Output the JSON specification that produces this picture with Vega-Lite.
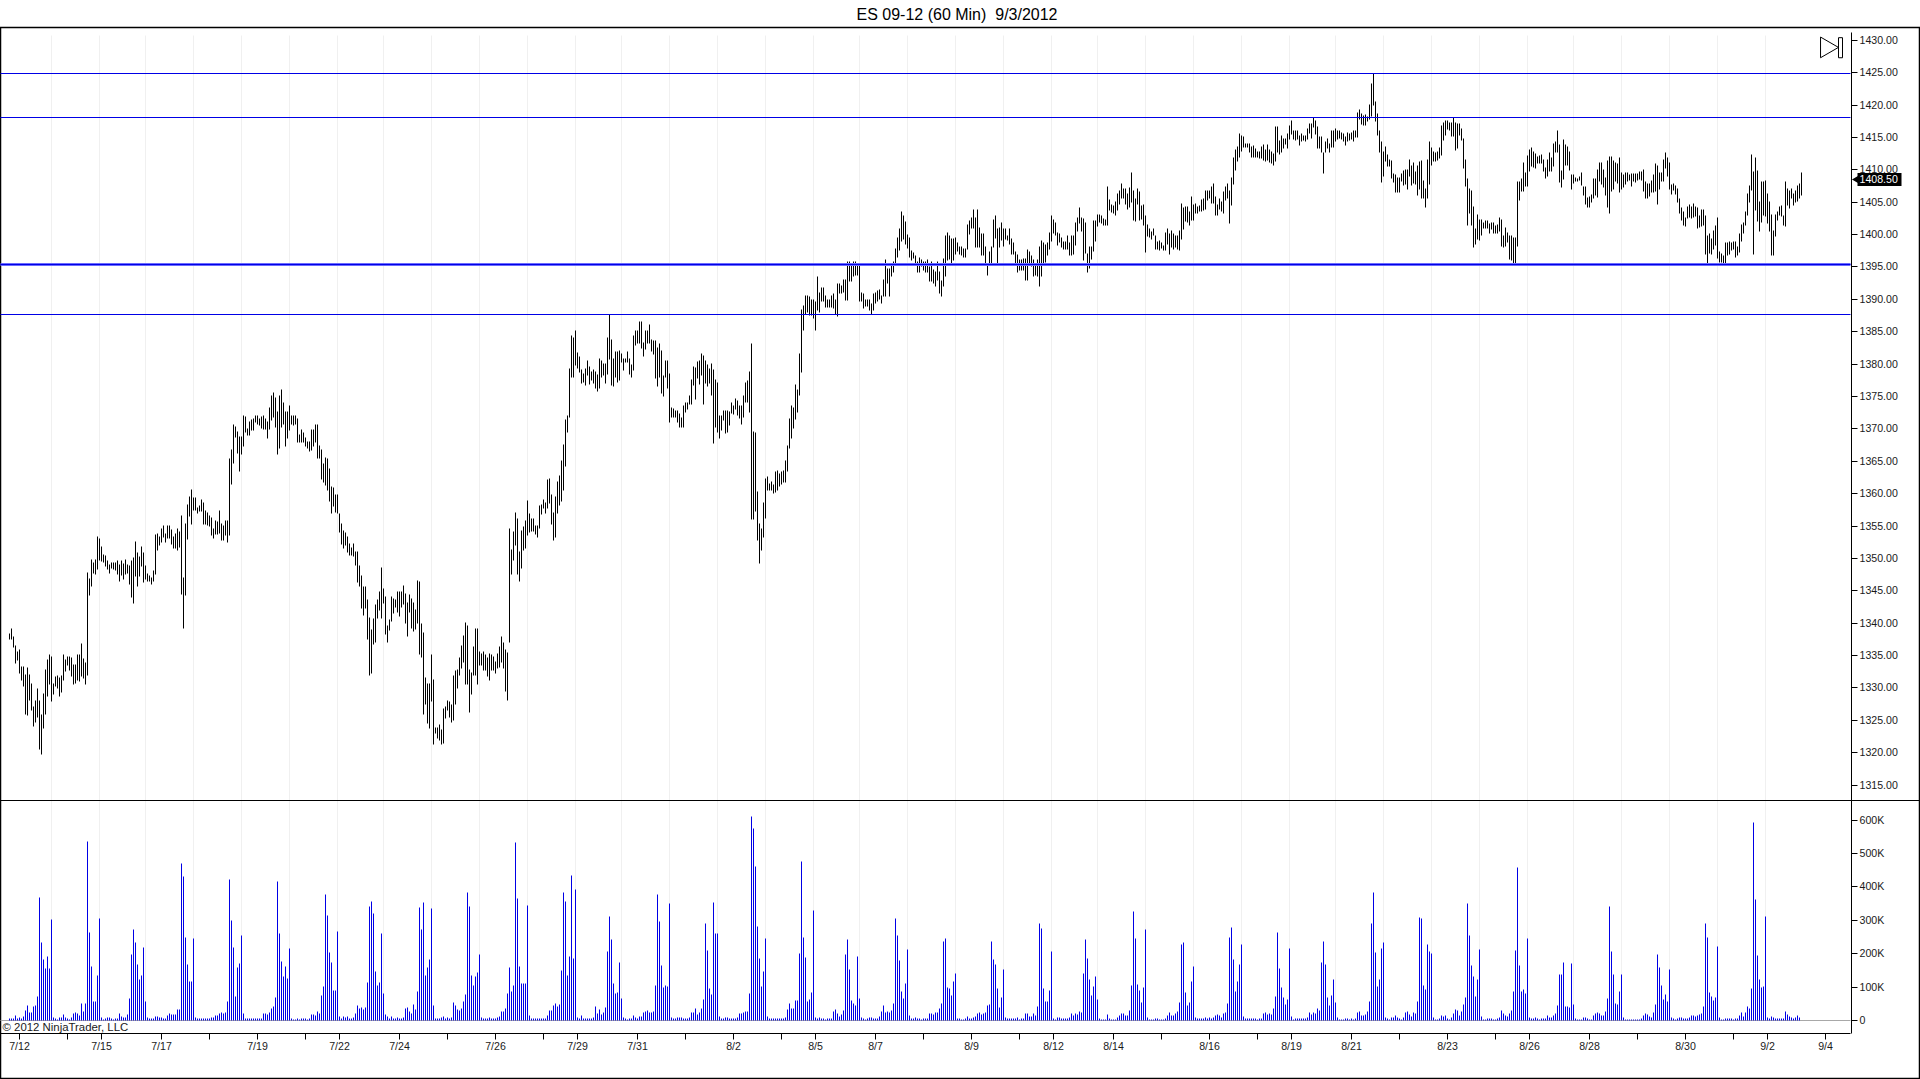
{"$schema":"https://vega.github.io/schema/vega-lite/v6.json","width":1919,"height":1051,"autosize":"none","padding":{"left":0.5,"top":27.5,"right":0,"bottom":0},"background":"white",
"title":{"text":"ES 09-12 (60 Min) \u00a09/3/2012","font":"Liberation Sans","fontSize":16,"fontWeight":"normal","color":"#000","anchor":"middle","frame":"group","dx":-3,"offset":5},
"config":{"view":{"stroke":"#000","strokeWidth":1.5},"axis":{"translate":0,"domainColor":"#000","tickColor":"#000","domainWidth":1,"tickWidth":1,"tickSize":6,"labelFont":"Liberation Sans","labelFontSize":10.6,"labelColor":"#1a1a1a","labelPadding":2,"grid":false,"title":null,"labelOverlap":false,"labelBound":false,"labelFlush":false},"text":{"font":"Liberation Sans"}},
"data":{"values":[
{"i":0,"h":1338.4,"l":1337.5,"v":6},{"i":1,"h":1339.2,"l":1337.5,"v":7},{"i":2,"h":1338,"l":1336.3,"v":7},{"i":3,"h":1336.5,"l":1333.8,"v":16},{"i":4,"h":1335.7,"l":1334.3,"v":6},{"i":5,"h":1336,"l":1332.3,"v":10},{"i":6,"h":1333.3,"l":1331.2,"v":7},{"i":7,"h":1333.3,"l":1330.2,"v":12},{"i":8,"h":1332,"l":1325.9,"v":31},{"i":9,"h":1333.1,"l":1325.8,"v":46},
{"i":10,"h":1332,"l":1328,"v":25},{"i":11,"h":1330.7,"l":1326.5,"v":25},{"i":12,"h":1327.1,"l":1324,"v":43},{"i":13,"h":1328,"l":1324.7,"v":46},{"i":14,"h":1329.9,"l":1325.5,"v":73},{"i":15,"h":1328,"l":1320.5,"v":367},{"i":16,"h":1325.9,"l":1319.7,"v":232},{"i":17,"h":1329.1,"l":1323.8,"v":184},{"i":18,"h":1332.8,"l":1325.9,"v":157},{"i":19,"h":1334.4,"l":1328.7,"v":193},
{"i":20,"h":1335.1,"l":1330.6,"v":157},{"i":21,"h":1334.9,"l":1327.9,"v":301},{"i":22,"h":1330.7,"l":1329,"v":10},{"i":23,"h":1331.7,"l":1330.2,"v":7},{"i":24,"h":1331.9,"l":1329.9,"v":3},{"i":25,"h":1331.6,"l":1328.7,"v":10},{"i":26,"h":1331.9,"l":1329.3,"v":8},{"i":27,"h":1335.1,"l":1331.2,"v":18},{"i":28,"h":1334.4,"l":1332.6,"v":8},{"i":29,"h":1334.8,"l":1333.4,"v":7},
{"i":30,"h":1334.8,"l":1332.7,"v":4},{"i":31,"h":1334.7,"l":1331.8,"v":8},{"i":32,"h":1333.6,"l":1330.6,"v":20},{"i":33,"h":1333.6,"l":1330.7,"v":25},{"i":34,"h":1335.1,"l":1331.2,"v":22},{"i":35,"h":1335.1,"l":1331,"v":16},{"i":36,"h":1336.8,"l":1331.7,"v":52},{"i":37,"h":1334.5,"l":1331.5,"v":28},{"i":38,"h":1334,"l":1330.6,"v":52},{"i":39,"h":1347.9,"l":1331.9,"v":535},
{"i":40,"h":1346.9,"l":1344.3,"v":264},{"i":41,"h":1349.9,"l":1345.6,"v":163},{"i":42,"h":1349.3,"l":1347.6,"v":58},{"i":43,"h":1349.9,"l":1347.5,"v":58},{"i":44,"h":1353.4,"l":1348.3,"v":136},{"i":45,"h":1353.1,"l":1349.7,"v":304},{"i":46,"h":1351.9,"l":1349.6,"v":10},{"i":47,"h":1350.6,"l":1349.4,"v":4},{"i":48,"h":1350.5,"l":1348.8,"v":7},{"i":49,"h":1349.7,"l":1348.3,"v":8},
{"i":50,"h":1349.1,"l":1347.6,"v":8},{"i":51,"h":1349.4,"l":1348.5,"v":5},{"i":52,"h":1349.4,"l":1348.3,"v":4},{"i":53,"h":1349.4,"l":1348.2,"v":5},{"i":54,"h":1349.7,"l":1347.5,"v":7},{"i":55,"h":1349.1,"l":1346.5,"v":22},{"i":56,"h":1349.7,"l":1347.4,"v":13},{"i":57,"h":1349.2,"l":1346.8,"v":10},{"i":58,"h":1349.9,"l":1347.5,"v":10},{"i":59,"h":1349.1,"l":1347.7,"v":17},
{"i":60,"h":1348.9,"l":1346,"v":67},{"i":61,"h":1349.7,"l":1344,"v":199},{"i":62,"h":1350.2,"l":1343.1,"v":271},{"i":63,"h":1352.6,"l":1347.2,"v":232},{"i":64,"h":1350.9,"l":1345.7,"v":169},{"i":65,"h":1350.3,"l":1347.2,"v":124},{"i":66,"h":1351.9,"l":1348.8,"v":136},{"i":67,"h":1350.9,"l":1346.3,"v":220},{"i":68,"h":1348.9,"l":1346.8,"v":58},{"i":69,"h":1347.7,"l":1346.5,"v":8},
{"i":70,"h":1347.4,"l":1346.5,"v":5},{"i":71,"h":1347.1,"l":1346,"v":5},{"i":72,"h":1348.2,"l":1346.5,"v":7},{"i":73,"h":1353.7,"l":1347.5,"v":13},{"i":74,"h":1353.9,"l":1351.2,"v":13},{"i":75,"h":1353.4,"l":1352,"v":8},{"i":76,"h":1354.6,"l":1352.5,"v":10},{"i":77,"h":1355.1,"l":1353.3,"v":7},{"i":78,"h":1353.9,"l":1352.5,"v":7},{"i":79,"h":1355.1,"l":1353,"v":14},
{"i":80,"h":1355.1,"l":1353.1,"v":22},{"i":81,"h":1354.5,"l":1352.2,"v":19},{"i":82,"h":1353.4,"l":1351.6,"v":17},{"i":83,"h":1353.9,"l":1351.6,"v":17},{"i":84,"h":1354.6,"l":1351.2,"v":34},{"i":85,"h":1354.1,"l":1351.7,"v":34},{"i":86,"h":1356.6,"l":1344.4,"v":469},{"i":87,"h":1347.1,"l":1339.2,"v":432},{"i":88,"h":1355.4,"l":1344.3,"v":247},{"i":89,"h":1358.3,"l":1352.9,"v":169},
{"i":90,"h":1359.6,"l":1356.5,"v":118},{"i":91,"h":1360.7,"l":1355.3,"v":118},{"i":92,"h":1359.4,"l":1357.4,"v":244},{"i":93,"h":1359.4,"l":1357.4,"v":10},{"i":94,"h":1357.9,"l":1357,"v":5},{"i":95,"h":1358.2,"l":1357.3,"v":5},{"i":96,"h":1359.1,"l":1357.3,"v":7},{"i":97,"h":1358.6,"l":1355.3,"v":7},{"i":98,"h":1357.4,"l":1355.3,"v":7},{"i":99,"h":1357.1,"l":1355.1,"v":7},
{"i":100,"h":1356.6,"l":1355,"v":5},{"i":101,"h":1356.3,"l":1353.6,"v":10},{"i":102,"h":1354.6,"l":1353,"v":10},{"i":103,"h":1355.9,"l":1353.7,"v":16},{"i":104,"h":1355.7,"l":1353.7,"v":16},{"i":105,"h":1357.4,"l":1353.9,"v":22},{"i":106,"h":1355.4,"l":1352.8,"v":25},{"i":107,"h":1355.1,"l":1352.8,"v":22},{"i":108,"h":1355.8,"l":1353.6,"v":25},{"i":109,"h":1355.9,"l":1352.5,"v":58},
{"i":110,"h":1365.4,"l":1353.6,"v":421},{"i":111,"h":1366.8,"l":1361.4,"v":298},{"i":112,"h":1370.7,"l":1364.7,"v":220},{"i":113,"h":1370.4,"l":1368.7,"v":73},{"i":114,"h":1369.6,"l":1366.2,"v":160},{"i":115,"h":1368.9,"l":1363.4,"v":172},{"i":116,"h":1368.9,"l":1366.1,"v":253},{"i":117,"h":1372.1,"l":1367.3,"v":20},{"i":118,"h":1371.9,"l":1369.5,"v":5},{"i":119,"h":1370,"l":1369,"v":5},
{"i":120,"h":1371.2,"l":1369,"v":7},{"i":121,"h":1371.5,"l":1369.8,"v":7},{"i":122,"h":1371.6,"l":1369.8,"v":7},{"i":123,"h":1372.1,"l":1371,"v":7},{"i":124,"h":1372.1,"l":1370.7,"v":5},{"i":125,"h":1371.6,"l":1370.5,"v":5},{"i":126,"h":1371.9,"l":1370.1,"v":7},{"i":127,"h":1372.1,"l":1369.9,"v":22},{"i":128,"h":1371.6,"l":1369.9,"v":22},{"i":129,"h":1371.2,"l":1368.5,"v":19},
{"i":130,"h":1373.3,"l":1369.9,"v":25},{"i":131,"h":1375.2,"l":1371.3,"v":37},{"i":132,"h":1375.6,"l":1371.8,"v":43},{"i":133,"h":1374.9,"l":1370.2,"v":70},{"i":134,"h":1372.7,"l":1366.1,"v":415},{"i":135,"h":1375.2,"l":1367,"v":259},{"i":136,"h":1376.1,"l":1370.2,"v":178},{"i":137,"h":1374,"l":1370.7,"v":133},{"i":138,"h":1372.7,"l":1367.3,"v":163},{"i":139,"h":1372.7,"l":1368.5,"v":127},
{"i":140,"h":1373.6,"l":1369.8,"v":217},{"i":141,"h":1372.1,"l":1370.7,"v":7},{"i":142,"h":1372.1,"l":1370.5,"v":4},{"i":143,"h":1372.1,"l":1370.7,"v":4},{"i":144,"h":1371.6,"l":1367.9,"v":7},{"i":145,"h":1369.2,"l":1367.9,"v":4},{"i":146,"h":1369.9,"l":1367.9,"v":7},{"i":147,"h":1369.5,"l":1367.9,"v":7},{"i":148,"h":1368.7,"l":1367.3,"v":7},{"i":149,"h":1368.1,"l":1367,"v":4},
{"i":150,"h":1368.1,"l":1366.5,"v":7},{"i":151,"h":1369.9,"l":1366.7,"v":19},{"i":152,"h":1369.9,"l":1367.3,"v":19},{"i":153,"h":1370.7,"l":1367.9,"v":16},{"i":154,"h":1370.7,"l":1365.4,"v":28},{"i":155,"h":1367.5,"l":1365.4,"v":22},{"i":156,"h":1366.8,"l":1362.2,"v":76},{"i":157,"h":1364.7,"l":1361.7,"v":103},{"i":158,"h":1365.6,"l":1361.3,"v":376},{"i":159,"h":1365.4,"l":1360.5,"v":313},
{"i":160,"h":1363.9,"l":1358.8,"v":205},{"i":161,"h":1361.1,"l":1357,"v":175},{"i":162,"h":1361,"l":1358,"v":91},{"i":163,"h":1359.9,"l":1357.1,"v":91},{"i":164,"h":1359.9,"l":1357,"v":265},{"i":165,"h":1357,"l":1354,"v":13},{"i":166,"h":1355.4,"l":1352.2,"v":7},{"i":167,"h":1354.3,"l":1351.5,"v":13},{"i":168,"h":1354,"l":1352,"v":10},{"i":169,"h":1353.4,"l":1350.9,"v":13},
{"i":170,"h":1352.3,"l":1350.5,"v":7},{"i":171,"h":1351.7,"l":1350.5,"v":7},{"i":172,"h":1352.3,"l":1350.3,"v":10},{"i":173,"h":1351.1,"l":1348.9,"v":20},{"i":174,"h":1351.1,"l":1346.3,"v":46},{"i":175,"h":1348.9,"l":1345.7,"v":37},{"i":176,"h":1347.4,"l":1342.3,"v":40},{"i":177,"h":1345.7,"l":1341.2,"v":34},{"i":178,"h":1345.7,"l":1342.3,"v":40},{"i":179,"h":1343.7,"l":1337.5,"v":115},
{"i":180,"h":1340.9,"l":1331.9,"v":340},{"i":181,"h":1339.1,"l":1332.2,"v":355},{"i":182,"h":1340.8,"l":1336.7,"v":319},{"i":183,"h":1342.9,"l":1337,"v":148},{"i":184,"h":1343.7,"l":1340.7,"v":106},{"i":185,"h":1344.9,"l":1342,"v":115},{"i":186,"h":1348.6,"l":1340.7,"v":259},{"i":187,"h":1345.4,"l":1343,"v":82},{"i":188,"h":1344.1,"l":1338.3,"v":19},{"i":189,"h":1339.7,"l":1337,"v":13},
{"i":190,"h":1340.5,"l":1338.8,"v":7},{"i":191,"h":1344.1,"l":1340.3,"v":13},{"i":192,"h":1343.8,"l":1341.5,"v":7},{"i":193,"h":1343.7,"l":1342.4,"v":5},{"i":194,"h":1344.9,"l":1341.7,"v":10},{"i":195,"h":1344.9,"l":1341.1,"v":7},{"i":196,"h":1344.9,"l":1342.4,"v":7},{"i":197,"h":1345.8,"l":1342.9,"v":10},{"i":198,"h":1344.6,"l":1340,"v":37},{"i":199,"h":1343.2,"l":1338,"v":40},
{"i":200,"h":1344.4,"l":1341.7,"v":28},{"i":201,"h":1343.8,"l":1339.2,"v":22},{"i":202,"h":1343.2,"l":1338.7,"v":49},{"i":203,"h":1342.1,"l":1339,"v":34},{"i":204,"h":1346.6,"l":1340,"v":88},{"i":205,"h":1346.5,"l":1335.2,"v":337},{"i":206,"h":1340,"l":1334.7,"v":271},{"i":207,"h":1338.6,"l":1325.9,"v":352},{"i":208,"h":1331.6,"l":1327.5,"v":136},{"i":209,"h":1330.7,"l":1324.5,"v":160},
{"i":210,"h":1330.7,"l":1323.8,"v":184},{"i":211,"h":1335.2,"l":1327.9,"v":334},{"i":212,"h":1331.3,"l":1321.3,"v":46},{"i":213,"h":1323.9,"l":1323,"v":5},{"i":214,"h":1323.9,"l":1322.2,"v":5},{"i":215,"h":1324.4,"l":1321.9,"v":7},{"i":216,"h":1323.6,"l":1321.3,"v":10},{"i":217,"h":1326.8,"l":1321.4,"v":13},{"i":218,"h":1327.2,"l":1325.3,"v":7},{"i":219,"h":1328.1,"l":1326.5,"v":10},
{"i":220,"h":1327.9,"l":1325.5,"v":7},{"i":221,"h":1327.5,"l":1324.7,"v":10},{"i":222,"h":1331.9,"l":1325,"v":55},{"i":223,"h":1332.7,"l":1327.5,"v":46},{"i":224,"h":1332.9,"l":1329.9,"v":34},{"i":225,"h":1334.7,"l":1331.9,"v":31},{"i":226,"h":1336.6,"l":1333,"v":37},{"i":227,"h":1338.1,"l":1334,"v":58},{"i":228,"h":1340.1,"l":1330.5,"v":79},{"i":229,"h":1339.6,"l":1330.5,"v":382},
{"i":230,"h":1332.9,"l":1326.2,"v":340},{"i":231,"h":1332.4,"l":1329,"v":136},{"i":232,"h":1336.4,"l":1331.9,"v":106},{"i":233,"h":1339.2,"l":1331.9,"v":133},{"i":234,"h":1339.2,"l":1330.5,"v":145},{"i":235,"h":1335.6,"l":1333.5,"v":199},{"i":236,"h":1335.3,"l":1333.5,"v":10},{"i":237,"h":1335.6,"l":1332.7,"v":5},{"i":238,"h":1335.2,"l":1332.7,"v":5},{"i":239,"h":1334.7,"l":1331.8,"v":7},
{"i":240,"h":1335.3,"l":1331.2,"v":10},{"i":241,"h":1335.2,"l":1332.7,"v":7},{"i":242,"h":1334.9,"l":1332.7,"v":7},{"i":243,"h":1334.1,"l":1332.3,"v":5},{"i":244,"h":1335.3,"l":1333,"v":10},{"i":245,"h":1336.4,"l":1333.2,"v":13},{"i":246,"h":1338,"l":1334,"v":28},{"i":247,"h":1337,"l":1333,"v":28},{"i":248,"h":1336,"l":1329.5,"v":37},{"i":249,"h":1335.5,"l":1328,"v":82},
{"i":250,"h":1354.6,"l":1337,"v":160},{"i":251,"h":1351.4,"l":1347.5,"v":88},{"i":252,"h":1354.2,"l":1349.7,"v":106},{"i":253,"h":1357.1,"l":1352,"v":532},{"i":254,"h":1356.2,"l":1347.5,"v":364},{"i":255,"h":1351,"l":1346.5,"v":163},{"i":256,"h":1354.3,"l":1348.5,"v":112},{"i":257,"h":1355,"l":1351.2,"v":112},{"i":258,"h":1355.9,"l":1351.6,"v":112},{"i":259,"h":1359,"l":1353.6,"v":343},
{"i":260,"h":1357,"l":1354,"v":14},{"i":261,"h":1356.2,"l":1354.2,"v":5},{"i":262,"h":1356.2,"l":1354.2,"v":5},{"i":263,"h":1355.1,"l":1353.7,"v":5},{"i":264,"h":1355.1,"l":1353.3,"v":7},{"i":265,"h":1358.2,"l":1354.6,"v":7},{"i":266,"h":1358.3,"l":1356.8,"v":7},{"i":267,"h":1359.1,"l":1357.7,"v":5},{"i":268,"h":1358.7,"l":1357,"v":5},{"i":269,"h":1362.2,"l":1357.7,"v":16},
{"i":270,"h":1362.4,"l":1358.5,"v":31},{"i":271,"h":1359.9,"l":1355.3,"v":31},{"i":272,"h":1357.1,"l":1352.8,"v":46},{"i":273,"h":1359.6,"l":1353.3,"v":52},{"i":274,"h":1361.9,"l":1357,"v":43},{"i":275,"h":1362.8,"l":1358.2,"v":49},{"i":276,"h":1365.1,"l":1358.8,"v":151},{"i":277,"h":1367.6,"l":1360.5,"v":382},{"i":278,"h":1371.5,"l":1364.2,"v":355},{"i":279,"h":1372.1,"l":1369.5,"v":136},
{"i":280,"h":1379.3,"l":1371.8,"v":193},{"i":281,"h":1384.4,"l":1378,"v":433},{"i":282,"h":1384.1,"l":1378,"v":187},{"i":283,"h":1385.2,"l":1379.8,"v":391},{"i":284,"h":1381.8,"l":1379.3,"v":10},{"i":285,"h":1381.2,"l":1378.7,"v":7},{"i":286,"h":1379.2,"l":1377,"v":14},{"i":287,"h":1378.6,"l":1377.2,"v":7},{"i":288,"h":1379.3,"l":1376.7,"v":7},{"i":289,"h":1380.6,"l":1378.3,"v":7},
{"i":290,"h":1379.7,"l":1376.9,"v":7},{"i":291,"h":1378.9,"l":1377.5,"v":7},{"i":292,"h":1379.2,"l":1377,"v":10},{"i":293,"h":1378.9,"l":1376.3,"v":43},{"i":294,"h":1378.4,"l":1375.8,"v":22},{"i":295,"h":1380.9,"l":1376.3,"v":34},{"i":296,"h":1380.6,"l":1378,"v":19},{"i":297,"h":1380.1,"l":1378.3,"v":25},{"i":298,"h":1380.1,"l":1377,"v":40},{"i":299,"h":1384.1,"l":1378.4,"v":208},
{"i":300,"h":1387.6,"l":1380.7,"v":310},{"i":301,"h":1383.8,"l":1376.7,"v":241},{"i":302,"h":1380.9,"l":1376.6,"v":112},{"i":303,"h":1382,"l":1378,"v":82},{"i":304,"h":1382,"l":1377.2,"v":85},{"i":305,"h":1382.1,"l":1377.5,"v":175},{"i":306,"h":1381.7,"l":1380.3,"v":67},{"i":307,"h":1380.9,"l":1379,"v":10},{"i":308,"h":1380.9,"l":1380.3,"v":5},{"i":309,"h":1382,"l":1380.3,"v":4},
{"i":310,"h":1380.9,"l":1378.4,"v":7},{"i":311,"h":1380,"l":1378,"v":7},{"i":312,"h":1384.4,"l":1379,"v":14},{"i":313,"h":1385.2,"l":1382.8,"v":8},{"i":314,"h":1385.2,"l":1383.2,"v":5},{"i":315,"h":1386.6,"l":1383.2,"v":11},{"i":316,"h":1386.6,"l":1382.4,"v":11},{"i":317,"h":1383.4,"l":1381.1,"v":25},{"i":318,"h":1385.2,"l":1382.3,"v":28},{"i":319,"h":1385.2,"l":1383.2,"v":31},
{"i":320,"h":1386.1,"l":1383.2,"v":23},{"i":321,"h":1383.8,"l":1382,"v":23},{"i":322,"h":1383.7,"l":1381.5,"v":28},{"i":323,"h":1383.7,"l":1377.8,"v":106},{"i":324,"h":1382.6,"l":1376.6,"v":376},{"i":325,"h":1383.2,"l":1378,"v":295},{"i":326,"h":1382.1,"l":1375.5,"v":166},{"i":327,"h":1378.3,"l":1375,"v":100},{"i":328,"h":1380.6,"l":1378,"v":106},{"i":329,"h":1380.6,"l":1376.3,"v":103},
{"i":330,"h":1378.6,"l":1371,"v":349},{"i":331,"h":1373.3,"l":1371.8,"v":10},{"i":332,"h":1373.2,"l":1371.8,"v":5},{"i":333,"h":1372.9,"l":1371.8,"v":5},{"i":334,"h":1372.9,"l":1371,"v":10},{"i":335,"h":1372.4,"l":1370.2,"v":10},{"i":336,"h":1371.8,"l":1370.2,"v":10},{"i":337,"h":1373.6,"l":1370.2,"v":7},{"i":338,"h":1374.1,"l":1372.6,"v":7},{"i":339,"h":1374.1,"l":1373,"v":5},
{"i":340,"h":1375.2,"l":1373.8,"v":10},{"i":341,"h":1377.6,"l":1373.8,"v":25},{"i":342,"h":1379.7,"l":1376.7,"v":25},{"i":343,"h":1379.4,"l":1374.6,"v":37},{"i":344,"h":1380.4,"l":1377.8,"v":17},{"i":345,"h":1380.6,"l":1376.9,"v":25},{"i":346,"h":1381.7,"l":1378.3,"v":37},{"i":347,"h":1381.4,"l":1373.8,"v":64},{"i":348,"h":1380.6,"l":1377,"v":289},{"i":349,"h":1380,"l":1376.6,"v":211},
{"i":350,"h":1379.3,"l":1377,"v":97},{"i":351,"h":1380.1,"l":1375.2,"v":79},{"i":352,"h":1379.2,"l":1367.8,"v":352},{"i":353,"h":1377.6,"l":1370.2,"v":259},{"i":354,"h":1377.2,"l":1369.5,"v":259},{"i":355,"h":1372,"l":1368.5,"v":13},{"i":356,"h":1372,"l":1369.8,"v":5},{"i":357,"h":1372.9,"l":1371.3,"v":5},{"i":358,"h":1372.9,"l":1369.3,"v":8},{"i":359,"h":1372.9,"l":1369.5,"v":10},
{"i":360,"h":1372.7,"l":1370.5,"v":7},{"i":361,"h":1374,"l":1372.4,"v":7},{"i":362,"h":1373.6,"l":1372.2,"v":5},{"i":363,"h":1374.7,"l":1373,"v":7},{"i":364,"h":1374.4,"l":1372,"v":10},{"i":365,"h":1373.6,"l":1371.6,"v":22},{"i":366,"h":1373.6,"l":1370.7,"v":22},{"i":367,"h":1375.2,"l":1371.8,"v":25},{"i":368,"h":1377.2,"l":1374,"v":28},{"i":369,"h":1377.4,"l":1374,"v":28},
{"i":370,"h":1378.9,"l":1372.6,"v":82},{"i":371,"h":1383.2,"l":1356,"v":610},{"i":372,"h":1369.6,"l":1356,"v":574},{"i":373,"h":1369.5,"l":1357.3,"v":460},{"i":374,"h":1360.4,"l":1352.8,"v":280},{"i":375,"h":1355.4,"l":1349.2,"v":187},{"i":376,"h":1354.6,"l":1351.2,"v":103},{"i":377,"h":1358.7,"l":1353.3,"v":148},{"i":378,"h":1362.4,"l":1356.2,"v":244},{"i":379,"h":1362.7,"l":1360.5,"v":13},
{"i":380,"h":1361.6,"l":1360.5,"v":5},{"i":381,"h":1361.9,"l":1360.5,"v":5},{"i":382,"h":1361.4,"l":1360,"v":5},{"i":383,"h":1363.4,"l":1360.2,"v":7},{"i":384,"h":1363.6,"l":1360.5,"v":7},{"i":385,"h":1363.1,"l":1361.1,"v":7},{"i":386,"h":1363.4,"l":1361.4,"v":5},{"i":387,"h":1363.6,"l":1361.7,"v":5},{"i":388,"h":1365.1,"l":1361.7,"v":10},{"i":389,"h":1367.5,"l":1363.4,"v":34},
{"i":390,"h":1371.6,"l":1367,"v":52},{"i":391,"h":1373.6,"l":1368.5,"v":37},{"i":392,"h":1373.3,"l":1370,"v":37},{"i":393,"h":1376.9,"l":1371.5,"v":61},{"i":394,"h":1376.1,"l":1372.6,"v":61},{"i":395,"h":1381.7,"l":1375.2,"v":202},{"i":396,"h":1388.5,"l":1378.7,"v":475},{"i":397,"h":1389.1,"l":1385.2,"v":247},{"i":398,"h":1390.6,"l":1387.7,"v":190},{"i":399,"h":1390.6,"l":1388,"v":58},
{"i":400,"h":1390.5,"l":1387.5,"v":64},{"i":401,"h":1389.9,"l":1387.5,"v":85},{"i":402,"h":1389.9,"l":1387,"v":328},{"i":403,"h":1389.6,"l":1385.2,"v":10},{"i":404,"h":1393.5,"l":1388.3,"v":7},{"i":405,"h":1391.1,"l":1388,"v":10},{"i":406,"h":1391.9,"l":1389.6,"v":7},{"i":407,"h":1391.9,"l":1389.6,"v":7},{"i":408,"h":1390.6,"l":1388.8,"v":4},{"i":409,"h":1389.9,"l":1388.8,"v":5},
{"i":410,"h":1390,"l":1388.8,"v":7},{"i":411,"h":1390.6,"l":1388.8,"v":7},{"i":412,"h":1390.9,"l":1388.6,"v":28},{"i":413,"h":1389.9,"l":1387.7,"v":34},{"i":414,"h":1392.4,"l":1387.3,"v":22},{"i":415,"h":1392.4,"l":1390.9,"v":13},{"i":416,"h":1392.2,"l":1390.9,"v":19},{"i":417,"h":1393,"l":1391,"v":31},{"i":418,"h":1393,"l":1389.8,"v":199},{"i":419,"h":1395.8,"l":1389.8,"v":241},
{"i":420,"h":1395.8,"l":1392.7,"v":154},{"i":421,"h":1395.4,"l":1392.7,"v":61},{"i":422,"h":1395.8,"l":1393.5,"v":52},{"i":423,"h":1395.8,"l":1393.7,"v":46},{"i":424,"h":1395.4,"l":1393.7,"v":193},{"i":425,"h":1395.3,"l":1389.6,"v":67},{"i":426,"h":1391.1,"l":1389.6,"v":10},{"i":427,"h":1390.9,"l":1388.6,"v":5},{"i":428,"h":1389.9,"l":1388.9,"v":4},{"i":429,"h":1389.9,"l":1388.9,"v":7},
{"i":430,"h":1389.9,"l":1388.3,"v":8},{"i":431,"h":1389.3,"l":1387.7,"v":8},{"i":432,"h":1390.9,"l":1388.3,"v":5},{"i":433,"h":1391.1,"l":1389.3,"v":5},{"i":434,"h":1391.4,"l":1389.6,"v":7},{"i":435,"h":1391.5,"l":1389.9,"v":11},{"i":436,"h":1390.6,"l":1389.3,"v":28},{"i":437,"h":1393,"l":1390.4,"v":46},{"i":438,"h":1396.2,"l":1390.5,"v":25},{"i":439,"h":1394.7,"l":1392.4,"v":28},
{"i":440,"h":1394.7,"l":1390.5,"v":25},{"i":441,"h":1395.3,"l":1393.5,"v":31},{"i":442,"h":1395.8,"l":1394.2,"v":52},{"i":443,"h":1397.8,"l":1395.3,"v":304},{"i":444,"h":1399.5,"l":1396.5,"v":253},{"i":445,"h":1401,"l":1397.5,"v":181},{"i":446,"h":1403.5,"l":1399,"v":88},{"i":447,"h":1403,"l":1399.3,"v":67},{"i":448,"h":1402,"l":1398.5,"v":112},{"i":449,"h":1400,"l":1397.8,"v":214},
{"i":450,"h":1399.6,"l":1396.5,"v":14},{"i":451,"h":1397.6,"l":1396,"v":5},{"i":452,"h":1397.3,"l":1396.3,"v":5},{"i":453,"h":1396.8,"l":1395.3,"v":10},{"i":454,"h":1395.9,"l":1394.2,"v":7},{"i":455,"h":1396.5,"l":1394.2,"v":7},{"i":456,"h":1396.2,"l":1395,"v":4},{"i":457,"h":1395.8,"l":1394.5,"v":7},{"i":458,"h":1395.8,"l":1394.2,"v":7},{"i":459,"h":1396.1,"l":1394.2,"v":7},
{"i":460,"h":1395,"l":1392.8,"v":22},{"i":461,"h":1395.8,"l":1392.8,"v":22},{"i":462,"h":1394.6,"l":1392.5,"v":19},{"i":463,"h":1394.3,"l":1392,"v":25},{"i":464,"h":1395.9,"l":1392.9,"v":25},{"i":465,"h":1394.3,"l":1390.9,"v":37},{"i":466,"h":1392.9,"l":1390.5,"v":52},{"i":467,"h":1396.3,"l":1392,"v":235},{"i":468,"h":1399.9,"l":1393.6,"v":244},{"i":469,"h":1400.3,"l":1396,"v":100},
{"i":470,"h":1399.9,"l":1396.1,"v":97},{"i":471,"h":1399.4,"l":1395.6,"v":76},{"i":472,"h":1399.4,"l":1396,"v":118},{"i":473,"h":1399.6,"l":1397,"v":142},{"i":474,"h":1398.7,"l":1397.4,"v":7},{"i":475,"h":1398.2,"l":1397,"v":5},{"i":476,"h":1398.2,"l":1396.8,"v":4},{"i":477,"h":1397.9,"l":1396.5,"v":4},{"i":478,"h":1397.9,"l":1396.5,"v":5},{"i":479,"h":1401.6,"l":1397.7,"v":13},
{"i":480,"h":1402.2,"l":1400,"v":7},{"i":481,"h":1402.7,"l":1401,"v":7},{"i":482,"h":1403.9,"l":1401,"v":10},{"i":483,"h":1402.6,"l":1398,"v":13},{"i":484,"h":1403.9,"l":1398,"v":22},{"i":485,"h":1401.1,"l":1398,"v":25},{"i":486,"h":1400.2,"l":1396.8,"v":19},{"i":487,"h":1400.2,"l":1396.8,"v":22},{"i":488,"h":1398.2,"l":1395.4,"v":25},{"i":489,"h":1395.4,"l":1393.7,"v":46},
{"i":490,"h":1397.4,"l":1395.4,"v":49},{"i":491,"h":1398.2,"l":1395.4,"v":235},{"i":492,"h":1402.4,"l":1398,"v":184},{"i":493,"h":1403,"l":1399.4,"v":169},{"i":494,"h":1401,"l":1395.4,"v":97},{"i":495,"h":1401.1,"l":1398,"v":40},{"i":496,"h":1401.9,"l":1399.1,"v":70},{"i":497,"h":1401,"l":1398.2,"v":154},{"i":498,"h":1401,"l":1399.3,"v":10},{"i":499,"h":1399.9,"l":1399.1,"v":5},
{"i":500,"h":1401,"l":1398.4,"v":5},{"i":501,"h":1399.4,"l":1397,"v":7},{"i":502,"h":1398.7,"l":1397,"v":7},{"i":503,"h":1397.4,"l":1395.6,"v":7},{"i":504,"h":1397,"l":1394.2,"v":10},{"i":505,"h":1396.2,"l":1394.5,"v":4},{"i":506,"h":1396.2,"l":1394.5,"v":7},{"i":507,"h":1396.3,"l":1394.5,"v":7},{"i":508,"h":1396.3,"l":1392.9,"v":22},{"i":509,"h":1397.7,"l":1392.9,"v":22},
{"i":510,"h":1397.4,"l":1395.3,"v":13},{"i":511,"h":1396.8,"l":1395.1,"v":13},{"i":512,"h":1396.2,"l":1393.6,"v":22},{"i":513,"h":1395.4,"l":1393.7,"v":16},{"i":514,"h":1396.2,"l":1393.6,"v":43},{"i":515,"h":1398.2,"l":1392,"v":289},{"i":516,"h":1399.1,"l":1393.6,"v":274},{"i":517,"h":1398.7,"l":1395.6,"v":97},{"i":518,"h":1398.5,"l":1395.7,"v":58},{"i":519,"h":1398.7,"l":1396.8,"v":58},
{"i":520,"h":1400.3,"l":1397.7,"v":91},{"i":521,"h":1403,"l":1398.9,"v":208},{"i":522,"h":1402.4,"l":1400.2,"v":7},{"i":523,"h":1401.9,"l":1399.9,"v":4},{"i":524,"h":1400.3,"l":1398.3,"v":10},{"i":525,"h":1400.2,"l":1398.8,"v":10},{"i":526,"h":1399.6,"l":1398,"v":5},{"i":527,"h":1398.9,"l":1397.7,"v":5},{"i":528,"h":1398.9,"l":1397.7,"v":5},{"i":529,"h":1399.9,"l":1397.7,"v":5},
{"i":530,"h":1398.7,"l":1396.8,"v":10},{"i":531,"h":1399.9,"l":1396.8,"v":22},{"i":532,"h":1399.9,"l":1397,"v":16},{"i":533,"h":1401.9,"l":1398.3,"v":22},{"i":534,"h":1402.7,"l":1400.5,"v":19},{"i":535,"h":1404.2,"l":1401.7,"v":28},{"i":536,"h":1402.7,"l":1400.5,"v":25},{"i":537,"h":1402.5,"l":1396,"v":142},{"i":538,"h":1401.9,"l":1397.1,"v":241},{"i":539,"h":1397.1,"l":1394.2,"v":187},
{"i":540,"h":1398.2,"l":1394.8,"v":124},{"i":541,"h":1398.2,"l":1396.2,"v":76},{"i":542,"h":1402.2,"l":1397.4,"v":103},{"i":543,"h":1402.2,"l":1399,"v":133},{"i":544,"h":1403.1,"l":1401.3,"v":64},{"i":545,"h":1403.1,"l":1401.9,"v":7},{"i":546,"h":1403,"l":1401.7,"v":4},{"i":547,"h":1402.5,"l":1401.4,"v":4},{"i":548,"h":1402.4,"l":1401.4,"v":4},{"i":549,"h":1407.5,"l":1401.4,"v":19},
{"i":550,"h":1405.4,"l":1403.7,"v":7},{"i":551,"h":1404.7,"l":1403.4,"v":4},{"i":552,"h":1404.5,"l":1403.3,"v":4},{"i":553,"h":1405.1,"l":1403,"v":4},{"i":554,"h":1406.4,"l":1403.7,"v":10},{"i":555,"h":1406.8,"l":1404.7,"v":16},{"i":556,"h":1407.9,"l":1405.5,"v":22},{"i":557,"h":1407.1,"l":1405.5,"v":22},{"i":558,"h":1407.1,"l":1404.7,"v":16},{"i":559,"h":1406.4,"l":1403.9,"v":16},
{"i":560,"h":1407.3,"l":1404.2,"v":31},{"i":561,"h":1409.6,"l":1405,"v":106},{"i":562,"h":1406.8,"l":1402.2,"v":325},{"i":563,"h":1405.6,"l":1402,"v":244},{"i":564,"h":1407.1,"l":1404.7,"v":109},{"i":565,"h":1406.7,"l":1402.2,"v":91},{"i":566,"h":1404.5,"l":1402.4,"v":55},{"i":567,"h":1404.7,"l":1401.4,"v":100},{"i":568,"h":1403,"l":1397.3,"v":271},{"i":569,"h":1401.6,"l":1399.7,"v":10},
{"i":570,"h":1401,"l":1399.6,"v":4},{"i":571,"h":1400.5,"l":1399.3,"v":4},{"i":572,"h":1401,"l":1399.9,"v":4},{"i":573,"h":1399.9,"l":1397.7,"v":7},{"i":574,"h":1398.9,"l":1397.7,"v":7},{"i":575,"h":1399.1,"l":1397.6,"v":4},{"i":576,"h":1398.8,"l":1397.9,"v":4},{"i":577,"h":1398.3,"l":1397.6,"v":4},{"i":578,"h":1400.3,"l":1397.6,"v":5},{"i":579,"h":1401,"l":1398.5,"v":16},
{"i":580,"h":1400.2,"l":1397,"v":25},{"i":581,"h":1400.7,"l":1398,"v":16},{"i":582,"h":1400.2,"l":1397.7,"v":16},{"i":583,"h":1399.9,"l":1398,"v":22},{"i":584,"h":1399.9,"l":1397.7,"v":28},{"i":585,"h":1400.7,"l":1397.6,"v":55},{"i":586,"h":1404.8,"l":1399.3,"v":226},{"i":587,"h":1404.2,"l":1400.8,"v":232},{"i":588,"h":1404.4,"l":1402,"v":85},{"i":589,"h":1404.4,"l":1401.9,"v":46},
{"i":590,"h":1403.6,"l":1401.4,"v":55},{"i":591,"h":1405.9,"l":1402.2,"v":118},{"i":592,"h":1404.7,"l":1402.2,"v":163},{"i":593,"h":1404.8,"l":1403.3,"v":10},{"i":594,"h":1404.4,"l":1403.3,"v":5},{"i":595,"h":1404.5,"l":1403.6,"v":5},{"i":596,"h":1405.4,"l":1403.6,"v":5},{"i":597,"h":1405.6,"l":1403.7,"v":7},{"i":598,"h":1406.8,"l":1403.9,"v":10},{"i":599,"h":1406.8,"l":1405.3,"v":5},
{"i":600,"h":1406.8,"l":1405.5,"v":8},{"i":601,"h":1407.5,"l":1404.8,"v":7},{"i":602,"h":1407.9,"l":1404.8,"v":10},{"i":603,"h":1405.9,"l":1403,"v":16},{"i":604,"h":1404.7,"l":1403,"v":19},{"i":605,"h":1405.6,"l":1403.9,"v":16},{"i":606,"h":1405.1,"l":1403.6,"v":10},{"i":607,"h":1406.7,"l":1403.3,"v":22},{"i":608,"h":1407.5,"l":1405.3,"v":25},{"i":609,"h":1407.9,"l":1405.5,"v":52},
{"i":610,"h":1406.8,"l":1401.7,"v":247},{"i":611,"h":1408.8,"l":1404.5,"v":277},{"i":612,"h":1411.9,"l":1407.8,"v":184},{"i":613,"h":1413.2,"l":1409.9,"v":88},{"i":614,"h":1413.6,"l":1411.3,"v":118},{"i":615,"h":1415.6,"l":1411.9,"v":169},{"i":616,"h":1415.3,"l":1412.9,"v":226},{"i":617,"h":1415.2,"l":1413.5,"v":13},{"i":618,"h":1414.1,"l":1413.5,"v":5},{"i":619,"h":1414.1,"l":1413.5,"v":5},
{"i":620,"h":1414.1,"l":1412.6,"v":7},{"i":621,"h":1413.6,"l":1411.9,"v":7},{"i":622,"h":1413.8,"l":1411.9,"v":7},{"i":623,"h":1413.3,"l":1411.9,"v":5},{"i":624,"h":1412.9,"l":1411.9,"v":4},{"i":625,"h":1412.9,"l":1411.8,"v":7},{"i":626,"h":1413.6,"l":1411.8,"v":7},{"i":627,"h":1413.9,"l":1411.5,"v":22},{"i":628,"h":1413.2,"l":1411.3,"v":25},{"i":629,"h":1413.9,"l":1411.5,"v":19},
{"i":630,"h":1413.2,"l":1411.2,"v":22},{"i":631,"h":1412.9,"l":1410.9,"v":19},{"i":632,"h":1412.5,"l":1410.7,"v":37},{"i":633,"h":1416.7,"l":1411.3,"v":73},{"i":634,"h":1416.7,"l":1412.7,"v":262},{"i":635,"h":1414.6,"l":1412.4,"v":157},{"i":636,"h":1415.3,"l":1412.6,"v":100},{"i":637,"h":1414.9,"l":1413.3,"v":70},{"i":638,"h":1414.9,"l":1413.9,"v":49},{"i":639,"h":1415.6,"l":1413.3,"v":64},
{"i":640,"h":1416.9,"l":1414.7,"v":217},{"i":641,"h":1417.6,"l":1415.5,"v":13},{"i":642,"h":1416.1,"l":1414.7,"v":4},{"i":643,"h":1416.1,"l":1414.6,"v":7},{"i":644,"h":1416.1,"l":1414.7,"v":7},{"i":645,"h":1415.3,"l":1413.8,"v":7},{"i":646,"h":1415.6,"l":1414.4,"v":5},{"i":647,"h":1415.3,"l":1414.6,"v":5},{"i":648,"h":1415.3,"l":1414.3,"v":5},{"i":649,"h":1416.4,"l":1414.7,"v":8},
{"i":650,"h":1417.2,"l":1415.6,"v":25},{"i":651,"h":1417.2,"l":1414.9,"v":19},{"i":652,"h":1418,"l":1416.6,"v":25},{"i":653,"h":1417.6,"l":1415.5,"v":22},{"i":654,"h":1416.7,"l":1413.3,"v":37},{"i":655,"h":1415.2,"l":1413.3,"v":31},{"i":656,"h":1415.2,"l":1412.6,"v":175},{"i":657,"h":1412.7,"l":1409.5,"v":235},{"i":658,"h":1414.4,"l":1412.6,"v":169},{"i":659,"h":1414.9,"l":1413.3,"v":70},
{"i":660,"h":1414.1,"l":1412.6,"v":46},{"i":661,"h":1416,"l":1413.5,"v":76},{"i":662,"h":1416.1,"l":1413.5,"v":124},{"i":663,"h":1416.4,"l":1414.4,"v":55},{"i":664,"h":1416.1,"l":1414.7,"v":10},{"i":665,"h":1416.1,"l":1414.9,"v":4},{"i":666,"h":1415.8,"l":1414.7,"v":4},{"i":667,"h":1415.6,"l":1414.3,"v":4},{"i":668,"h":1415.2,"l":1413.8,"v":7},{"i":669,"h":1415.8,"l":1414.3,"v":7},
{"i":670,"h":1415.6,"l":1414.6,"v":4},{"i":671,"h":1415.8,"l":1414.7,"v":7},{"i":672,"h":1416,"l":1414.3,"v":4},{"i":673,"h":1416,"l":1415,"v":7},{"i":674,"h":1418.9,"l":1415,"v":25},{"i":675,"h":1419.3,"l":1417.8,"v":28},{"i":676,"h":1418.7,"l":1417,"v":16},{"i":677,"h":1418.4,"l":1416.9,"v":16},{"i":678,"h":1418.6,"l":1416.9,"v":19},{"i":679,"h":1418.3,"l":1417.5,"v":28},
{"i":680,"h":1420.1,"l":1417.8,"v":58},{"i":681,"h":1423.4,"l":1418.3,"v":289},{"i":682,"h":1424.8,"l":1420,"v":382},{"i":683,"h":1420.6,"l":1417.5,"v":205},{"i":684,"h":1418.7,"l":1415.3,"v":103},{"i":685,"h":1416,"l":1412.7,"v":124},{"i":686,"h":1414.4,"l":1408.1,"v":217},{"i":687,"h":1412.9,"l":1409,"v":232},{"i":688,"h":1413.6,"l":1411.3,"v":10},{"i":689,"h":1412.4,"l":1410.5,"v":7},
{"i":690,"h":1411.6,"l":1410.5,"v":4},{"i":691,"h":1411.5,"l":1408.7,"v":10},{"i":692,"h":1409.5,"l":1408.1,"v":10},{"i":693,"h":1409.2,"l":1406.5,"v":16},{"i":694,"h":1408.8,"l":1406.5,"v":10},{"i":695,"h":1408.8,"l":1406.5,"v":7},{"i":696,"h":1409.5,"l":1408.2,"v":4},{"i":697,"h":1409.9,"l":1407.6,"v":8},{"i":698,"h":1410.1,"l":1407.8,"v":25},{"i":699,"h":1410.1,"l":1407,"v":28},
{"i":700,"h":1411.6,"l":1409,"v":19},{"i":701,"h":1410.7,"l":1407.6,"v":13},{"i":702,"h":1411.2,"l":1407.9,"v":25},{"i":703,"h":1409.8,"l":1407.8,"v":22},{"i":704,"h":1410.7,"l":1406.1,"v":58},{"i":705,"h":1411.3,"l":1407,"v":307},{"i":706,"h":1411.5,"l":1405.5,"v":304},{"i":707,"h":1408.4,"l":1405.5,"v":106},{"i":708,"h":1407.1,"l":1404.2,"v":94},{"i":709,"h":1411.6,"l":1405.5,"v":226},
{"i":710,"h":1414.4,"l":1407.8,"v":208},{"i":711,"h":1413.5,"l":1410.7,"v":202},{"i":712,"h":1412.9,"l":1411.3,"v":10},{"i":713,"h":1412.7,"l":1411.3,"v":4},{"i":714,"h":1412.9,"l":1411.5,"v":4},{"i":715,"h":1413.5,"l":1411.8,"v":7},{"i":716,"h":1416.9,"l":1412.2,"v":16},{"i":717,"h":1417.3,"l":1414.6,"v":13},{"i":718,"h":1417.6,"l":1415.3,"v":16},{"i":719,"h":1417.6,"l":1416.3,"v":7},
{"i":720,"h":1417.3,"l":1416.1,"v":4},{"i":721,"h":1417.3,"l":1415.2,"v":10},{"i":722,"h":1418,"l":1415.2,"v":22},{"i":723,"h":1417.3,"l":1413,"v":34},{"i":724,"h":1417.2,"l":1413.3,"v":31},{"i":725,"h":1417.2,"l":1415.3,"v":16},{"i":726,"h":1416.4,"l":1414.6,"v":28},{"i":727,"h":1414.9,"l":1410.2,"v":49},{"i":728,"h":1411.6,"l":1407.5,"v":70},{"i":729,"h":1408.7,"l":1401.4,"v":349},
{"i":730,"h":1407.1,"l":1403.3,"v":253},{"i":731,"h":1406.8,"l":1401.4,"v":166},{"i":732,"h":1404.4,"l":1398,"v":133},{"i":733,"h":1401,"l":1398.5,"v":73},{"i":734,"h":1403.1,"l":1399.3,"v":124},{"i":735,"h":1402.4,"l":1399.1,"v":214},{"i":736,"h":1402.4,"l":1399.9,"v":13},{"i":737,"h":1401.9,"l":1401,"v":4},{"i":738,"h":1402.2,"l":1401,"v":4},{"i":739,"h":1402.2,"l":1401,"v":7},
{"i":740,"h":1401.7,"l":1400.2,"v":7},{"i":741,"h":1401.9,"l":1400.8,"v":7},{"i":742,"h":1401.9,"l":1400.1,"v":4},{"i":743,"h":1401.4,"l":1400.1,"v":4},{"i":744,"h":1401.6,"l":1400.1,"v":7},{"i":745,"h":1402.7,"l":1400.5,"v":10},{"i":746,"h":1402.4,"l":1398.2,"v":31},{"i":747,"h":1399.9,"l":1398,"v":22},{"i":748,"h":1401.1,"l":1398.2,"v":16},{"i":749,"h":1400.3,"l":1398.8,"v":13},
{"i":750,"h":1399.9,"l":1396.2,"v":22},{"i":751,"h":1399.9,"l":1396,"v":31},{"i":752,"h":1399.6,"l":1395.4,"v":88},{"i":753,"h":1399.6,"l":1395.4,"v":211},{"i":754,"h":1408.2,"l":1398.2,"v":457},{"i":755,"h":1408.2,"l":1405.3,"v":166},{"i":756,"h":1408.7,"l":1406.7,"v":88},{"i":757,"h":1411.2,"l":1406.7,"v":94},{"i":758,"h":1409.6,"l":1407.5,"v":82},{"i":759,"h":1412.2,"l":1407.5,"v":244},
{"i":760,"h":1413.2,"l":1409.8,"v":10},{"i":761,"h":1413.5,"l":1410.5,"v":7},{"i":762,"h":1412.9,"l":1410.4,"v":7},{"i":763,"h":1412.5,"l":1410.2,"v":10},{"i":764,"h":1412.1,"l":1411,"v":7},{"i":765,"h":1412.2,"l":1411,"v":4},{"i":766,"h":1412.4,"l":1411,"v":5},{"i":767,"h":1411.6,"l":1409.8,"v":7},{"i":768,"h":1410.4,"l":1408.7,"v":7},{"i":769,"h":1411.6,"l":1409,"v":16},
{"i":770,"h":1412.7,"l":1409.8,"v":10},{"i":771,"h":1411.9,"l":1409.8,"v":10},{"i":772,"h":1414.1,"l":1410.5,"v":16},{"i":773,"h":1414.4,"l":1412.6,"v":22},{"i":774,"h":1416.1,"l":1412.7,"v":46},{"i":775,"h":1413.9,"l":1408.1,"v":139},{"i":776,"h":1409.9,"l":1407.3,"v":139},{"i":777,"h":1414.7,"l":1408.5,"v":175},{"i":778,"h":1413.9,"l":1410.7,"v":43},{"i":779,"h":1413.6,"l":1410.7,"v":43},
{"i":780,"h":1412.9,"l":1409.9,"v":40},{"i":781,"h":1409.2,"l":1407,"v":172},{"i":782,"h":1409.2,"l":1407.9,"v":49},{"i":783,"h":1408.8,"l":1408.2,"v":7},{"i":784,"h":1408.7,"l":1408.2,"v":4},{"i":785,"h":1409,"l":1408.4,"v":4},{"i":786,"h":1409.6,"l":1407.6,"v":4},{"i":787,"h":1407.5,"l":1406.1,"v":10},{"i":788,"h":1407.5,"l":1404.7,"v":10},{"i":789,"h":1405.8,"l":1404.2,"v":7},
{"i":790,"h":1405.9,"l":1404.2,"v":4},{"i":791,"h":1406.2,"l":1405,"v":4},{"i":792,"h":1408.7,"l":1405.5,"v":16},{"i":793,"h":1408.7,"l":1406.1,"v":22},{"i":794,"h":1410.1,"l":1405.8,"v":25},{"i":795,"h":1411.2,"l":1408.2,"v":22},{"i":796,"h":1411.2,"l":1407.8,"v":16},{"i":797,"h":1410.1,"l":1407.3,"v":16},{"i":798,"h":1408.8,"l":1406.1,"v":28},{"i":799,"h":1411.5,"l":1404.2,"v":67},
{"i":800,"h":1412.1,"l":1403.3,"v":340},{"i":801,"h":1412.1,"l":1406.7,"v":208},{"i":802,"h":1411.5,"l":1407,"v":139},{"i":803,"h":1411.2,"l":1408.2,"v":52},{"i":804,"h":1410.9,"l":1407.9,"v":49},{"i":805,"h":1411.9,"l":1406.5,"v":88},{"i":806,"h":1409.6,"l":1407,"v":139},{"i":807,"h":1409.2,"l":1407.3,"v":10},{"i":808,"h":1409.6,"l":1407.8,"v":4},{"i":809,"h":1409.6,"l":1408.2,"v":4},
{"i":810,"h":1409.3,"l":1408.4,"v":4},{"i":811,"h":1409.5,"l":1407.5,"v":4},{"i":812,"h":1409.5,"l":1408.2,"v":4},{"i":813,"h":1409.5,"l":1408.1,"v":4},{"i":814,"h":1409.5,"l":1408.4,"v":4},{"i":815,"h":1409.8,"l":1408.5,"v":4},{"i":816,"h":1409.8,"l":1408.4,"v":5},{"i":817,"h":1410.1,"l":1406.7,"v":16},{"i":818,"h":1408.2,"l":1405.5,"v":22},{"i":819,"h":1407.9,"l":1405.5,"v":19},
{"i":820,"h":1407.9,"l":1405.9,"v":13},{"i":821,"h":1408.4,"l":1406.5,"v":10},{"i":822,"h":1409.3,"l":1406.5,"v":25},{"i":823,"h":1410.9,"l":1406.7,"v":49},{"i":824,"h":1410.7,"l":1404.7,"v":199},{"i":825,"h":1409.6,"l":1407,"v":160},{"i":826,"h":1409.6,"l":1408.2,"v":106},{"i":827,"h":1411.6,"l":1408.2,"v":64},{"i":828,"h":1412.7,"l":1410.2,"v":79},{"i":829,"h":1411.9,"l":1409,"v":58},
{"i":830,"h":1411.2,"l":1407,"v":154},{"i":831,"h":1407.8,"l":1406.2,"v":10},{"i":832,"h":1407.9,"l":1406.8,"v":5},{"i":833,"h":1407.6,"l":1406.2,"v":4},{"i":834,"h":1407.1,"l":1405,"v":7},{"i":835,"h":1405.6,"l":1403.3,"v":10},{"i":836,"h":1404.2,"l":1402.2,"v":10},{"i":837,"h":1403.6,"l":1401.4,"v":7},{"i":838,"h":1402.7,"l":1401.3,"v":7},{"i":839,"h":1404.4,"l":1402.5,"v":7},
{"i":840,"h":1404.7,"l":1402.7,"v":10},{"i":841,"h":1404.4,"l":1402.5,"v":16},{"i":842,"h":1404.8,"l":1402.7,"v":16},{"i":843,"h":1404.4,"l":1402.8,"v":13},{"i":844,"h":1404.2,"l":1401,"v":16},{"i":845,"h":1403,"l":1401.1,"v":19},{"i":846,"h":1403.9,"l":1401.3,"v":22},{"i":847,"h":1403.9,"l":1401.4,"v":43},{"i":848,"h":1403,"l":1397,"v":289},{"i":849,"h":1399.9,"l":1395.4,"v":247},
{"i":850,"h":1400.2,"l":1397.1,"v":85},{"i":851,"h":1399.4,"l":1397,"v":73},{"i":852,"h":1400.7,"l":1397.7,"v":61},{"i":853,"h":1401.4,"l":1398.3,"v":70},{"i":854,"h":1402.7,"l":1396.3,"v":223},{"i":855,"h":1397.4,"l":1395.7,"v":10},{"i":856,"h":1397.1,"l":1395.7,"v":4},{"i":857,"h":1396.8,"l":1395.6,"v":4},{"i":858,"h":1398.7,"l":1395.6,"v":7},{"i":859,"h":1398.7,"l":1396.8,"v":7},
{"i":860,"h":1398.9,"l":1397,"v":7},{"i":861,"h":1398.7,"l":1397.6,"v":7},{"i":862,"h":1398.9,"l":1397.7,"v":4},{"i":863,"h":1398.9,"l":1396.5,"v":7},{"i":864,"h":1398.2,"l":1396.8,"v":7},{"i":865,"h":1400.2,"l":1397.3,"v":16},{"i":866,"h":1401.6,"l":1399,"v":25},{"i":867,"h":1401.9,"l":1400.2,"v":13},{"i":868,"h":1403.6,"l":1401.4,"v":25},{"i":869,"h":1406.4,"l":1403,"v":43},
{"i":870,"h":1407.6,"l":1405,"v":37},{"i":871,"h":1412.4,"l":1406.8,"v":96},{"i":872,"h":1409.8,"l":1397,"v":592},{"i":873,"h":1411.9,"l":1403.7,"v":361},{"i":874,"h":1409.9,"l":1402,"v":196},{"i":875,"h":1405.1,"l":1400.5,"v":124},{"i":876,"h":1408.2,"l":1401.9,"v":100},{"i":877,"h":1408.2,"l":1403,"v":103},{"i":878,"h":1408.4,"l":1402.8,"v":310},{"i":879,"h":1406.4,"l":1401.7,"v":10},
{"i":880,"h":1405.1,"l":1400.5,"v":7},{"i":881,"h":1403.1,"l":1396.8,"v":13},{"i":882,"h":1400.7,"l":1396.8,"v":10},{"i":883,"h":1403.1,"l":1399.7,"v":7},{"i":884,"h":1403.6,"l":1402.2,"v":7},{"i":885,"h":1404.4,"l":1403,"v":5},{"i":886,"h":1404.5,"l":1402.8,"v":7},{"i":887,"h":1403,"l":1401.4,"v":7},{"i":888,"h":1408.2,"l":1401.3,"v":28},{"i":889,"h":1407.1,"l":1404.5,"v":19},
{"i":890,"h":1406.8,"l":1404.1,"v":13},{"i":891,"h":1407.1,"l":1405.5,"v":10},{"i":892,"h":1406.4,"l":1404.5,"v":7},{"i":893,"h":1406.8,"l":1405,"v":10},{"i":894,"h":1407.6,"l":1405.1,"v":16},{"i":895,"h":1407.9,"l":1405.5,"v":10},{"i":896,"h":1409.6,"l":1406.1,"v":0}
]},
"layer":[
{"data":{"values":[{"g":21},{"g":45},{"g":68},{"g":92},{"g":116},{"g":140},{"g":164},{"g":187},{"g":211},{"g":235},{"g":259},{"g":283},{"g":306},{"g":330},{"g":354},{"g":378},{"g":402},{"g":425},{"g":449},{"g":473},{"g":497},{"g":521},{"g":544},{"g":568},{"g":592},{"g":616},{"g":640},{"g":663},{"g":687},{"g":711},{"g":735},{"g":759},{"g":782},{"g":806},{"g":830},{"g":854},{"g":878}]},
"mark":{"type":"rule","color":"#f0f0f0","strokeWidth":1},
"encoding":{"x":{"field":"g","type":"quantitative","scale":{"domain":[-4.5,920.5],"range":[0,1850],"nice":false,"zero":false},
"axis":{"values":[5,29,46,76,100,124,148,165,195,219,243,267,284,314,338,362,386,403,433,457,481,505,522,552,576,600,624,641,671,695,719,743,760,790,814,838,862,879,908],"orient":"bottom","offset":-45,"labelExpr":"({'5':'7/12','46':'7/15','76':'7/17','124':'7/19','165':'7/22','195':'7/24','243':'7/26','284':'7/29','314':'7/31','362':'8/2','403':'8/5','433':'8/7','481':'8/9','522':'8/12','552':'8/14','600':'8/16','641':'8/19','671':'8/21','719':'8/23','760':'8/26','790':'8/28','838':'8/30','879':'9/2','908':'9/4'})[datum.value]||''"}},
"y":{"datum":1430.8,"type":"quantitative","scale":{"domain":[1312.7,1431.2],"range":[772.5,5],"round":true},"axis":null},"y2":{"datum":1278.7}}},
{"mark":{"type":"rule","color":"#000","strokeWidth":1},
"encoding":{"x":{"field":"i","type":"quantitative","scale":{"domain":[-4.5,920.5],"range":[0,1850],"nice":false,"zero":false}},
"y":{"field":"h","type":"quantitative","scale":{"domain":[1312.7,1431.2],"range":[772.5,5],"round":true},
"axis":{"orient":"right","offset":-68,"values":[1315,1320,1325,1330,1335,1340,1345,1350,1355,1360,1365,1370,1375,1380,1385,1390,1395,1400,1405,1410,1415,1420,1425,1430],"format":".2f"}},"y2":{"field":"l"}}},
{"data":{"values":[{"p":1424.86},{"p":1418.06},{"p":1387.65}]},"mark":{"type":"rule","color":"#0000e6","strokeWidth":1},
"encoding":{"x":{"datum":-4.5,"type":"quantitative","scale":{"domain":[-4.5,920.5],"range":[0,1850],"nice":false,"zero":false}},"x2":{"datum":920.5},"y":{"field":"p","type":"quantitative","scale":{"domain":[1312.7,1431.2],"range":[772.5,5],"round":true},"axis":null}}},
{"data":{"values":[{"p":1395.4}]},"mark":{"type":"rule","color":"#6a6aff","strokeWidth":3},
"encoding":{"x":{"datum":-4.5,"type":"quantitative","scale":{"domain":[-4.5,920.5],"range":[0,1850],"nice":false,"zero":false}},"x2":{"datum":920.5},"y":{"field":"p","type":"quantitative","scale":{"domain":[1312.7,1431.2],"range":[772.5,5],"round":true},"axis":null}}},
{"data":{"values":[{"p":1395.4}]},"mark":{"type":"rule","color":"#0000e6","strokeWidth":1},
"encoding":{"x":{"datum":-4.5,"type":"quantitative","scale":{"domain":[-4.5,920.5],"range":[0,1850],"nice":false,"zero":false}},"x2":{"datum":920.5},"y":{"field":"p","type":"quantitative","scale":{"domain":[1312.7,1431.2],"range":[772.5,5],"round":true},"axis":null}}},
{"data":{"values":[{"z":0}]},"mark":{"type":"rule","color":"#a8a8a8","strokeWidth":1},
"encoding":{"x":{"datum":-4.5,"type":"quantitative","scale":{"domain":[-4.5,920.5],"range":[0,1850],"nice":false,"zero":false}},"x2":{"datum":920.5},"y":{"field":"z","type":"quantitative","scale":{"domain":[-38.9,660],"range":[1006,772.5],"round":true},"axis":null}}},
{"mark":{"type":"rule","color":"#0000e6","strokeWidth":1},
"encoding":{"x":{"field":"i","type":"quantitative","scale":{"domain":[-4.5,920.5],"range":[0,1850],"nice":false,"zero":false}},
"y":{"field":"v","type":"quantitative","scale":{"domain":[-38.9,660],"range":[1006,772.5],"round":true},
"axis":{"orient":"right","offset":-68,"values":[0,100,200,300,400,500,600],"labelExpr":"datum.value==0?'0':datum.value+'K'"}},"y2":{"datum":0}}},
{"data":{"values":[{"d":660}]},"mark":{"type":"rule","color":"#000","strokeWidth":1},
"encoding":{"y":{"field":"d","type":"quantitative","scale":{"domain":[-38.9,660],"range":[1006,772.5],"round":true},"axis":null}}},
{"data":{"values":[{"t":"© 2012 NinjaTrader, LLC","x":-3.5,"y":-21}]},"mark":{"type":"text","align":"left","baseline":"middle","fontSize":11.4,"color":"#1a1a1a"},
"encoding":{"text":{"field":"t"},"x":{"field":"x","type":"quantitative","scale":{"domain":[-4.5,920.5],"range":[0,1850],"nice":false,"zero":false}},"y":{"field":"y","type":"quantitative","scale":{"domain":[-38.9,660],"range":[1006,772.5]},"axis":null}}},
{"data":{"values":[{"x":910,"p":1428.9}]},"mark":{"type":"point","shape":"triangle-right","size":428,"filled":false,"stroke":"#000","strokeWidth":1,"opacity":1},
"encoding":{"x":{"field":"x","type":"quantitative","scale":{"domain":[-4.5,920.5],"range":[0,1850],"nice":false,"zero":false}},"y":{"field":"p","type":"quantitative","scale":{"domain":[1312.7,1431.2],"range":[772.5,5]},"axis":null}}},
{"data":{"values":[{"x":914.5,"x2":916.5,"p":1430.4,"p2":1427.3}]},"mark":{"type":"rect","fill":"white","stroke":"#000","strokeWidth":1},
"encoding":{"x":{"field":"x","type":"quantitative","scale":{"domain":[-4.5,920.5],"range":[0,1850],"nice":false,"zero":false}},"x2":{"field":"x2"},"y":{"field":"p","type":"quantitative","scale":{"domain":[1312.7,1431.2],"range":[772.5,5]},"axis":null},"y2":{"field":"p2"}}},
{"data":{"values":[{"x":924,"x2":946,"p":1408.5}]},"mark":{"type":"rule","color":"#000","strokeWidth":13},
"encoding":{"x":{"field":"x","type":"quantitative","scale":{"domain":[-4.5,920.5],"range":[0,1850],"nice":false,"zero":false}},"x2":{"field":"x2"},"y":{"field":"p","type":"quantitative","scale":{"domain":[1312.7,1431.2],"range":[772.5,5]},"axis":null}}},
{"data":{"values":[{"x":923.5,"p":1408.5}]},"mark":{"type":"point","shape":"triangle-left","size":110,"filled":true,"color":"#000","opacity":1},
"encoding":{"x":{"field":"x","type":"quantitative","scale":{"domain":[-4.5,920.5],"range":[0,1850],"nice":false,"zero":false}},"y":{"field":"p","type":"quantitative","scale":{"domain":[1312.7,1431.2],"range":[772.5,5]},"axis":null}}},
{"data":{"values":[{"x":925,"p":1408.5,"t":"1408.50"}]},"mark":{"type":"text","align":"left","baseline":"middle","fontSize":10.6,"color":"#fff"},
"encoding":{"text":{"field":"t"},"x":{"field":"x","type":"quantitative","scale":{"domain":[-4.5,920.5],"range":[0,1850],"nice":false,"zero":false}},"y":{"field":"p","type":"quantitative","scale":{"domain":[1312.7,1431.2],"range":[772.5,5]},"axis":null}}}
],
"resolve":{"scale":{"y":"independent"},"axis":{"y":"independent"}}}
